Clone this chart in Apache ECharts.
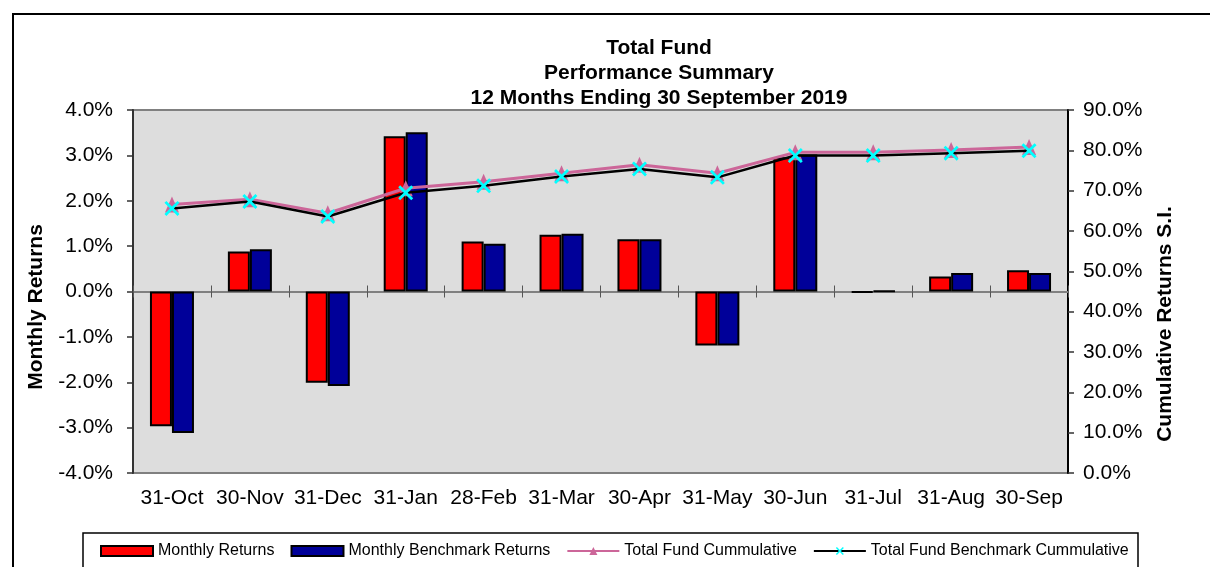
<!DOCTYPE html>
<html>
<head>
<meta charset="utf-8">
<script src="https://cdn.jsdelivr.net/npm/echarts@6/dist/echarts.min.js"></script>
<style>
html,body{margin:0;padding:0;background:#fff;}
#chart{width:1210px;height:567px;}
</style>
</head>
<body>
<div id="chart"></div>
<script>
const categories = ['31-Oct','30-Nov','31-Dec','31-Jan','28-Feb','31-Mar','30-Apr','31-May','30-Jun','31-Jul','31-Aug','30-Sep'];
const monthlyReturns = [-2.97, 0.88, -2.01, 3.42, 1.10, 1.25, 1.15, -1.19, 2.96, -0.02, 0.33, 0.47];
const monthlyBenchmark = [-3.12, 0.93, -2.08, 3.51, 1.05, 1.27, 1.15, -1.19, 3.02, 0.01, 0.41, 0.41];
const fundCumulative = [66.6, 67.9, 64.4, 70.6, 72.2, 74.3, 76.4, 74.3, 79.5, 79.5, 80.1, 80.8];
const benchCumulative = [65.6, 67.3, 63.6, 69.5, 71.2, 73.5, 75.4, 73.3, 78.7, 78.7, 79.3, 79.9];
const titleLines = ['Total Fund', 'Performance Summary', '12 Months Ending 30 September 2019'];
const seriesNames = ['Monthly Returns', 'Monthly Benchmark Returns', 'Total Fund Cummulative', 'Total Fund Benchmark Cummulative'];
const leftAxisName = 'Monthly Returns';
const rightAxisName = 'Cumulative Returns S.I.';

const FONT = "'Liberation Sans', Arial, sans-serif";
const crossPath = 'path://M0,1.3 L1.3,0 L5,3.7 L8.7,0 L10,1.3 L6.3,5 L10,8.7 L8.7,10 L5,6.3 L1.3,10 L0,8.7 L3.7,5 Z';

const chart = echarts.init(document.getElementById('chart'), null, {renderer: 'canvas'});
const option = {
  animation: false,
  backgroundColor: '#ffffff',
  textStyle: {fontFamily: FONT},
  title: {
    text: titleLines.join('\n'),
    left: 654,
    textAlign: 'center',
    top: 31,
    textStyle: {fontFamily: FONT, fontSize: 21, fontWeight: 'bold', color: '#000', lineHeight: 25}
  },
  graphic: [
    {type: 'rect', shape: {x: 13, y: 14, width: 1400, height: 800}, style: {fill: 'none', stroke: '#000', lineWidth: 2}, z: 0, silent: true},
    {type: 'rect', shape: {x: 83, y: 533, width: 1055, height: 60}, style: {fill: 'none', stroke: '#000', lineWidth: 1.5}, z: 0, silent: true},
    {type: 'text', x: 36, y: 307, rotation: Math.PI / 2,
      style: {text: leftAxisName, font: 'bold 21px ' + FONT, fill: '#000', textAlign: 'center', textVerticalAlign: 'middle'}},
    {type: 'text', x: 1165, y: 324, rotation: Math.PI / 2,
      style: {text: rightAxisName, font: 'bold 21px ' + FONT, fill: '#000', textAlign: 'center', textVerticalAlign: 'middle'}}
  ],
  legend: {
    left: 100,
    top: 543,
    padding: 0,
    itemWidth: 52,
    itemHeight: 10,
    itemGap: 16,
    textStyle: {fontFamily: FONT, fontSize: 16, color: '#000'},
    data: [
      {name: seriesNames[0], icon: 'rect'},
      {name: seriesNames[1], icon: 'rect'},
      {name: seriesNames[2]},
      {name: seriesNames[3]}
    ]
  },
  grid: {
    left: 133, right: 142, top: 110, bottom: 94,
    show: true, backgroundColor: '#DDDDDD', borderColor: '#808080', borderWidth: 2
  },
  xAxis: [
    {type: 'category', data: categories, position: 'bottom',
      axisLine: {show: true, onZero: true, onZeroAxisIndex: 0, lineStyle: {color: '#808080', width: 2}},
      axisTick: {show: true, length: 6, lineStyle: {color: '#555', width: 1}},
      axisLabel: {show: false}, splitLine: {show: false}},
    {type: 'category', data: categories, position: 'bottom',
      axisLine: {show: false, onZero: false}, axisTick: {show: false},
      axisLabel: {show: true, interval: 0, margin: 15, fontFamily: FONT, fontSize: 21, color: '#000'}, splitLine: {show: false}},
    {type: 'category', data: categories, position: 'bottom',
      axisLine: {show: false, onZero: true, onZeroAxisIndex: 0},
      axisTick: {show: true, inside: true, length: 6, lineStyle: {color: '#555', width: 1}},
      axisLabel: {show: false}, splitLine: {show: false}}
  ],
  yAxis: [
    {type: 'value', min: -4, max: 4, interval: 1, position: 'left',
      axisLine: {show: true, lineStyle: {color: '#333', width: 2}},
      axisTick: {show: true, length: 6, lineStyle: {color: '#333', width: 1.5}},
      axisLabel: {margin: 20, fontFamily: FONT, fontSize: 21, color: '#000', formatter: v => v.toFixed(1) + '%'},
      splitLine: {show: false}},
    {type: 'value', min: 0, max: 90, interval: 10, position: 'right',
      axisLine: {show: true, lineStyle: {color: '#000', width: 2}},
      axisTick: {show: true, length: 6, lineStyle: {color: '#333', width: 1.5}},
      axisLabel: {margin: 15, fontFamily: FONT, fontSize: 21, color: '#000', formatter: v => v.toFixed(1) + '%'},
      splitLine: {show: false}}
  ],
  series: [
    {name: seriesNames[0], type: 'bar', xAxisIndex: 0, yAxisIndex: 0, data: monthlyReturns,
      barWidth: 22, barGap: '0%',
      itemStyle: {color: '#FF0000', borderColor: '#000', borderWidth: 2}},
    {name: seriesNames[1], type: 'bar', xAxisIndex: 0, yAxisIndex: 0, data: monthlyBenchmark,
      barWidth: 22, barGap: '0%',
      itemStyle: {color: '#000099', borderColor: '#000', borderWidth: 2}},
    {name: seriesNames[2], type: 'line', xAxisIndex: 0, yAxisIndex: 1, data: fundCumulative,
      symbol: 'triangle', symbolSize: [14, 16], z: 3,
      lineStyle: {color: '#CC6699', width: 3},
      itemStyle: {color: '#CC6699'}},
    {name: seriesNames[3], type: 'line', xAxisIndex: 0, yAxisIndex: 1, data: benchCumulative,
      symbol: crossPath, symbolSize: 15, z: 4,
      lineStyle: {color: '#000', width: 2.5},
      itemStyle: {color: '#00FFFF'}}
  ]
};
chart.setOption(option);
</script>
</body>
</html>
